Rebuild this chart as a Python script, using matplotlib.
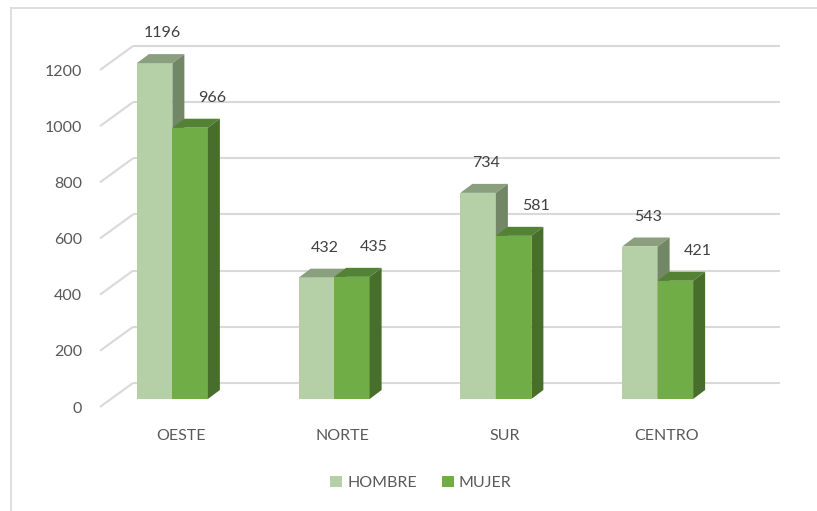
import matplotlib
matplotlib.use("Agg")
import matplotlib.pyplot as plt
from matplotlib.patches import Polygon, Patch
from matplotlib.lines import Line2D

plt.rcParams['font.family'] = ['Lato', 'DejaVu Sans']

# Data
regions = ["OESTE", "NORTE", "SUR", "CENTRO"]
hombre = [1196, 432, 734, 543]
mujer = [966, 435, 581, 421]
yticks = [0, 200, 400, 600, 800, 1000, 1200]

# colours: front, top, side
c_hombre = ("#b5cfa7", "#8a9f7e", "#718766")
c_mujer = ("#70ad47", "#548235", "#476e2b")
grid_col = "#d9d9d9"
text_col = "#595959"

W, H = 817, 511
fig = plt.figure(figsize=(W / 100, H / 100), dpi=100)

# front plane of the 3D box in pixels
x0_px, x1_px = 100, 747
y0_px, y1_px = 407, 70
ax = fig.add_axes([x0_px / W, 1 - y0_px / H, (x1_px - x0_px) / W, (y0_px - y1_px) / H])
ax.set_xlim(-0.5, 3.5)
ax.set_ylim(0, 1200)

px_x = (x1_px - x0_px) / 4.0      # pixels per category
px_y = (y0_px - y1_px) / 1200.0   # pixels per value unit


def dx(p):
    return p / px_x


def dy(p):
    return p / px_y


# depth of the box
depth_x, depth_y = dx(33), dy(24)

# back wall gridlines and left diagonals
for v in yticks:
    ax.plot([-0.5, -0.5 + depth_x], [v, v + depth_y], color=grid_col, lw=1.5,
            clip_on=False, zorder=1, solid_capstyle='butt')
    ax.plot([-0.5 + depth_x, 3.5 + depth_x], [v + depth_y, v + depth_y],
            color=grid_col, lw=1.5, clip_on=False, zorder=1, solid_capstyle='butt')

# bars
bar_w = dx(35.5)
base = dy(8)
bdx, bdy = dx(12), dy(9)
offsets = [dx(-44), dx(-44) + bar_w]


def draw_bar(x, v, cols, z):
    front, top, side = cols
    y0, y1 = base, base + v
    ax.add_patch(Polygon([(x, y0), (x + bar_w, y0), (x + bar_w, y1), (x, y1)],
                         closed=True, fc=front, ec='none', zorder=z, clip_on=False))
    ax.add_patch(Polygon([(x, y1), (x + bar_w, y1), (x + bar_w + bdx, y1 + bdy), (x + bdx, y1 + bdy)],
                         closed=True, fc=top, ec='none', zorder=z, clip_on=False))
    ax.add_patch(Polygon([(x + bar_w, y0), (x + bar_w + bdx, y0 + bdy), (x + bar_w + bdx, y1 + bdy), (x + bar_w, y1)],
                         closed=True, fc=side, ec='none', zorder=z, clip_on=False))


for i in range(len(regions)):
    for j, (vals, cols, lab_dx) in enumerate([(hombre, c_hombre, -4), (mujer, c_mujer, 10)]):
        x = i + offsets[j]
        v = vals[i]
        draw_bar(x, v, cols, 3 + j)
        ax.text(x + bar_w / 2 + bdx + dx(lab_dx), base + v + bdy + dy(21), str(v),
                ha='center', va='center', fontsize=11.5, color="#404040", zorder=10)

# axes styling
for s in ax.spines.values():
    s.set_visible(False)
ax.set_yticks(yticks)
ax.set_yticklabels([str(t) for t in yticks])
ax.set_xticks(range(len(regions)))
ax.set_xticklabels(regions)
ax.tick_params(axis='y', length=0, pad=13, labelsize=11.5, labelcolor=text_col)
ax.tick_params(axis='x', length=0, pad=16, labelsize=11.5, labelcolor=text_col)
ax.patch.set_visible(False)

# legend
handles = [Patch(facecolor=c_hombre[0], label="HOMBRE"), Patch(facecolor=c_mujer[0], label="MUJER")]
fig.legend(handles=handles, loc='center', bbox_to_anchor=(421 / W, 1 - 483 / H), ncol=2,
           frameon=False, fontsize=11.5, labelcolor=text_col, handlelength=0.75,
           handleheight=0.75, handletextpad=0.3, columnspacing=1.6)

# chart border (left and top visible)
fig.add_artist(Line2D([10.5 / W, 10.5 / W], [0, 1 - 8 / H], color=grid_col, lw=1.2))
fig.add_artist(Line2D([10.5 / W, 1], [1 - 8 / H, 1 - 8 / H], color=grid_col, lw=1.2))

fig.savefig("out.png", dpi=100)
